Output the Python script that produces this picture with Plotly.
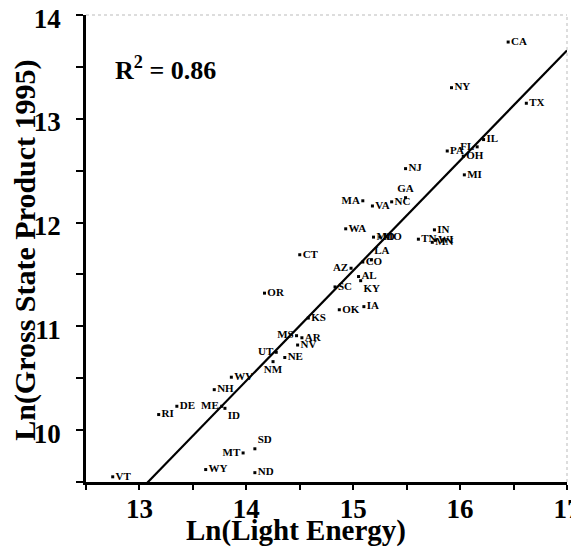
import plotly.graph_objects as go

states = ["CA", "NY", "TX", "IL", "FL", "PA", "OH", "MI", "NJ", "GA",
          "MA", "VA", "NC", "WA", "MD", "MO", "TN", "IN", "MN", "WI",
          "CT", "LA", "CO", "AZ", "AL", "KY", "SC", "OK", "IA", "KS",
          "AR", "MS", "NV", "NE", "OR", "UT", "NM", "WV", "NH", "DE",
          "RI", "ME", "ID", "SD", "MT", "WY", "ND", "VT"]
ln_light = [16.45, 15.92, 16.62, 16.22, 16.16, 15.88, 16.03, 16.04, 15.49, 15.49,
            15.09, 15.18, 15.36, 14.93, 15.19, 15.25, 15.61, 15.76, 15.74, 15.77,
            14.50, 15.17, 15.09, 14.98, 15.05, 15.07, 14.83, 14.87, 15.10, 14.58,
            14.52, 14.47, 14.48, 14.36, 14.17, 14.28, 14.25, 13.86, 13.70, 13.35,
            13.18, 13.77, 13.80, 14.08, 13.97, 13.62, 14.08, 12.75]
ln_gsp = [13.74, 13.30, 13.15, 12.80, 12.73, 12.69, 12.64, 12.46, 12.52, 12.24,
          12.21, 12.16, 12.20, 11.94, 11.86, 11.86, 11.84, 11.93, 11.81, 11.83,
          11.69, 11.64, 11.62, 11.56, 11.48, 11.44, 11.38, 11.16, 11.19, 11.08,
          10.89, 10.91, 10.82, 10.70, 11.32, 10.75, 10.66, 10.51, 10.39, 10.23,
          10.15, 10.23, 10.21, 9.82, 9.78, 9.62, 9.59, 9.55]
label_pos = ["middle right", "middle right", "middle right", "middle right", "middle left",
             "middle right", "middle right", "middle right", "middle right", "top center",
             "middle left", "middle right", "middle right", "middle right", "middle right",
             "middle right", "middle right", "middle right", "middle right", "middle right",
             "middle right", "top right", "middle right", "middle left", "middle right",
             "bottom right", "middle right", "middle right", "middle right", "middle right",
             "middle right", "middle left", "middle right", "middle right", "middle right",
             "middle left", "bottom center", "middle right", "middle right", "middle right",
             "middle right", "middle left", "bottom right", "top right", "middle left",
             "middle right", "middle right", "middle right"]

fit_slope = 1.061
fit_intercept = -4.378
r_squared = 0.86

x_ticks = [12.5, 13, 13.5, 14, 14.5, 15, 15.5, 16, 16.5, 17]
x_ticktext = ["", "13", "", "14", "", "15", "", "16", "", "17"]
y_ticks = [9.5, 10, 10.5, 11, 11.5, 12, 12.5, 13, 13.5, 14]
y_ticktext = ["", "10", "", "11", "", "12", "", "13", "", "14"]

serif = "Liberation Serif"

fig = go.Figure()

fit_x = [12.5, 17.0]
fit_y = [fit_slope * v + fit_intercept for v in fit_x]
fig.add_trace(go.Scatter(x=fit_x, y=fit_y, mode="lines",
                         line=dict(color="black", width=2.2),
                         hoverinfo="skip", showlegend=False))

fig.add_trace(go.Scatter(
    x=ln_light, y=ln_gsp, mode="markers+text", text=states,
    textposition=label_pos,
    textfont=dict(family=serif, size=11, color="black", weight="bold"),
    marker=dict(symbol="square", size=3, color="black"),
    cliponaxis=False, showlegend=False))

fig.add_annotation(x=0.056, y=0.886, xref="paper", yref="paper",
                   text="<b>R<sup>2</sup> = %.2f</b>" % r_squared, showarrow=False,
                   xanchor="left", yanchor="middle",
                   font=dict(family=serif, size=26, color="black"))

fig.add_annotation(x=0.437, y=-0.103, xref="paper", yref="paper",
                   text="<b>Ln(Light Energy)</b>", showarrow=False,
                   xanchor="center", yanchor="middle",
                   font=dict(family=serif, size=29, color="black"))
fig.add_annotation(x=-0.127, y=0.497, xref="paper", yref="paper",
                   text="<b>Ln(Gross State Product 1995)</b>", showarrow=False,
                   textangle=-90, xanchor="center", yanchor="middle",
                   font=dict(family=serif, size=30, color="black"))

# faint top/right frame
fig.add_shape(type="line", xref="paper", yref="paper", x0=0, y0=1, x1=1, y1=1,
              line=dict(color="#bbbbbb", width=1, dash="dot"))
fig.add_shape(type="line", xref="paper", yref="paper", x0=1, y0=0, x1=1, y1=1,
              line=dict(color="#bbbbbb", width=1, dash="dot"))

axis_common = dict(showgrid=False, zeroline=False, showline=True,
                   linecolor="black", linewidth=2.5, ticks="outside",
                   tickcolor="black", tickwidth=2, automargin=False,
                   ticklabeloverflow="allow",
                   tickfont=dict(family=serif, size=27, color="black", weight="bold"))

fig.update_xaxes(range=[12.5, 17.0005], tickmode="array", tickvals=x_ticks,
                 ticktext=x_ticktext, ticklen=5, ticklabelstandoff=-4,
                 **axis_common)
fig.update_yaxes(range=[9.5, 14.0005], tickmode="array", tickvals=y_ticks,
                 ticktext=y_ticktext, ticklen=7, ticklabelstandoff=10,
                 ticklabelshift=3, **axis_common)

fig.update_layout(width=579, height=556,
                  margin=dict(l=78, r=20, t=7, b=82),
                  plot_bgcolor="white", paper_bgcolor="white")

fig.write_html("out.html")
